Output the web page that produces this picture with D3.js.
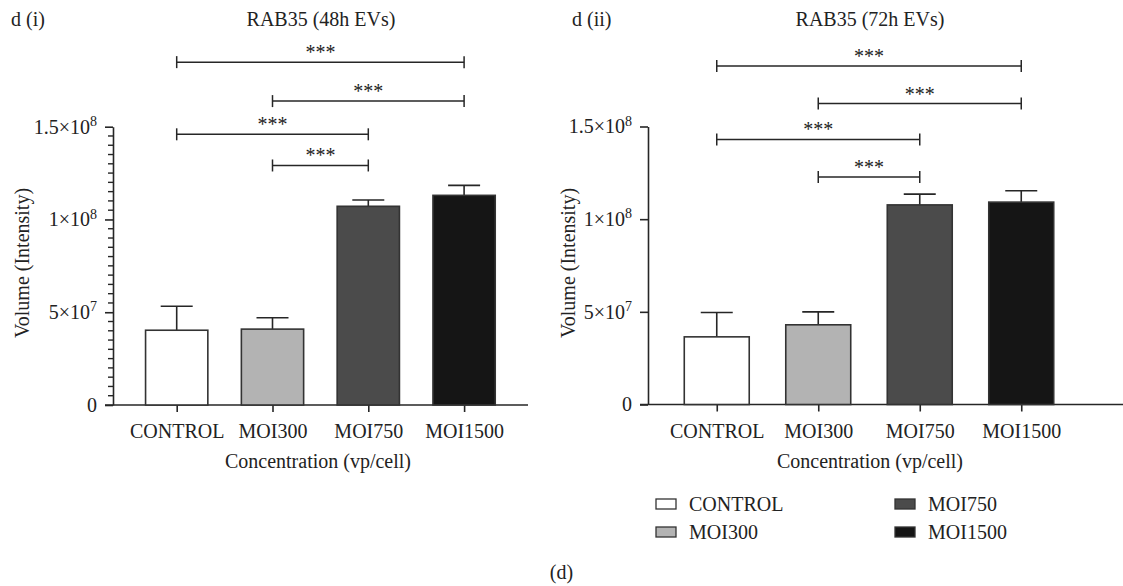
<!DOCTYPE html>
<html>
<head>
<meta charset="utf-8">
<script src="https://cdn.jsdelivr.net/npm/d3@7"></script>
<style>
  html, body { margin: 0; padding: 0; background: #fff; }
  svg { display: block; }
  text { font-family: "Liberation Serif", "Times New Roman", serif; fill: #222; }
</style>
</head>
<body>
<svg id="fig" width="1123" height="586"></svg>
<script>
// Groups (vp/cell) and their bar fills
const categories = ["CONTROL", "MOI300", "MOI750", "MOI1500"];
const fills = ["#ffffff", "#b3b3b3", "#4b4b4b", "#151515"];

// RAB35 volume (intensity), 48h EVs: mean and upper error
const mean48 = [4.03e7, 4.09e7, 1.071e8, 1.130e8];
const err48 = [1.29e7, 0.61e7, 0.34e7, 0.54e7];

// RAB35 volume (intensity), 72h EVs: mean and upper error
const mean72 = [3.65e7, 4.30e7, 1.077e8, 1.092e8];
const err72 = [1.31e7, 0.70e7, 0.58e7, 0.61e7];

// Significance comparisons: [group A, group B, bracket height]
const sig48 = [["CONTROL", "MOI1500", 1.848e8], ["MOI300", "MOI1500", 1.638e8],
               ["CONTROL", "MOI750", 1.459e8], ["MOI300", "MOI750", 1.291e8]];
const sig72 = [["CONTROL", "MOI1500", 1.827e8], ["MOI300", "MOI1500", 1.624e8],
               ["CONTROL", "MOI750", 1.430e8], ["MOI300", "MOI750", 1.228e8]];
const sigLabel = "***";

// Y axis ticks, written as mantissa × 10^exponent
const yTicks = [0, 5e7, 1e8, 1.5e8];
const yTickMantissa = ["0", "5", "1", "1.5"];
const yTickExponent = ["", "7", "8", "8"];

const svg = d3.select("#fig");
const ink = "#262626";

function panel(cfg) {
  const g = svg.append("g");
  const x = d3.scalePoint().domain(categories).range(cfg.xRange).padding(0.5);
  const y = d3.scaleLinear().domain([0, 1.5e8]).range(cfg.yRange);
  const barW = x.step() * cfg.barFrac;
  const capW = 32;

  // panel letter and title
  g.append("text").attr("x", cfg.letterX).attr("y", 26).attr("font-size", 20).text(cfg.letter);
  g.append("text").attr("x", cfg.titleX).attr("y", 26).attr("font-size", 20)
    .attr("text-anchor", "middle").text(cfg.title);

  // minor ticks
  if (cfg.minor) {
    const minorVals = d3.range(0, 1.5e8 + 1, 5e6).filter(v => v % 5e7 !== 0);
    g.selectAll("line.minor").data(minorVals).join("line")
      .attr("class", "minor")
      .attr("x1", cfg.axisX - 5).attr("x2", cfg.axisX)
      .attr("y1", d => y(d)).attr("y2", d => y(d))
      .attr("stroke", ink).attr("stroke-width", 1.4);
  }

  // y axis
  const yAxis = d3.axisLeft(y).tickValues(yTicks).tickSize(8).tickSizeOuter(0).tickPadding(8)
    .tickFormat(() => "");
  const ya = g.append("g").attr("transform", `translate(${cfg.axisX},0)`).call(yAxis);
  ya.select(".domain").attr("stroke", ink).attr("stroke-width", 1.6);
  ya.selectAll(".tick line").attr("stroke", ink).attr("stroke-width", 1.6);
  ya.selectAll(".tick text").each(function (d, i) {
    const t = d3.select(this).attr("font-size", 20).attr("font-family", null).attr("fill", "#222");
    const k = yTicks.indexOf(d);
    if (yTickExponent[k] === "") {
      t.append("tspan").text(yTickMantissa[k]);
    } else {
      t.append("tspan").text(yTickMantissa[k] + "×10");
      t.append("tspan").attr("font-size", 14).attr("dy", "-0.55em").text(yTickExponent[k]);
    }
  });

  // x axis: baseline line and category ticks
  g.append("line").attr("x1", cfg.xLine[0]).attr("x2", cfg.xLine[1])
    .attr("y1", y(0)).attr("y2", y(0)).attr("stroke", ink).attr("stroke-width", 1.6);
  const xAxis = d3.axisBottom(x).tickSize(7).tickSizeOuter(0).tickPadding(12);
  const xa = g.append("g").attr("transform", `translate(0,${y(0)})`).call(xAxis);
  xa.select(".domain").remove();
  xa.selectAll(".tick line").attr("stroke", ink).attr("stroke-width", 1.6);
  xa.selectAll(".tick text").attr("font-size", 20).attr("font-family", null).attr("fill", "#222")
    .attr("dy", "0.71em");

  // error whiskers (upper only)
  const rows = categories.map((c, i) => ({ c, m: cfg.mean[i], e: cfg.err[i], f: fills[i] }));
  g.selectAll("line.whisker").data(rows).join("line")
    .attr("class", "whisker")
    .attr("x1", d => x(d.c)).attr("x2", d => x(d.c))
    .attr("y1", d => y(d.m)).attr("y2", d => y(d.m + d.e))
    .attr("stroke", ink).attr("stroke-width", 1.6);
  g.selectAll("line.cap").data(rows).join("line")
    .attr("class", "cap")
    .attr("x1", d => x(d.c) - capW / 2).attr("x2", d => x(d.c) + capW / 2)
    .attr("y1", d => y(d.m + d.e)).attr("y2", d => y(d.m + d.e))
    .attr("stroke", ink).attr("stroke-width", 1.6);

  // bars
  g.selectAll("rect.bar").data(rows).join("rect")
    .attr("class", "bar")
    .attr("x", d => x(d.c) - barW / 2).attr("width", barW)
    .attr("y", d => y(d.m)).attr("height", d => y(0) - y(d.m))
    .attr("fill", d => d.f).attr("stroke", "#333").attr("stroke-width", 1.6);

  // significance brackets
  cfg.sig.forEach(([a, b, h]) => {
    const x1 = x(a), x2 = x(b), yy = y(h);
    g.append("line").attr("x1", x1).attr("x2", x2).attr("y1", yy).attr("y2", yy)
      .attr("stroke", ink).attr("stroke-width", 1.5);
    [x1, x2].forEach(xx => g.append("line").attr("x1", xx).attr("x2", xx)
      .attr("y1", yy - 6).attr("y2", yy + 6).attr("stroke", ink).attr("stroke-width", 1.5));
    g.append("text").attr("x", (x1 + x2) / 2).attr("y", yy - 3).attr("font-size", 20)
      .attr("text-anchor", "middle").attr("fill", "#555").text(sigLabel);
  });

  // axis titles
  g.append("text").attr("transform", `translate(${cfg.yTitleX},${cfg.yTitleY}) rotate(-90)`)
    .attr("text-anchor", "middle").attr("font-size", 20).text("Volume (Intensity)");
  g.append("text").attr("x", cfg.xTitleX).attr("y", 468).attr("text-anchor", "middle")
    .attr("font-size", 20).text("Concentration (vp/cell)");
}

panel({
  letter: "d (i)", letterX: 11, title: "RAB35 (48h EVs)", titleX: 321,
  xRange: [128.8, 512], yRange: [405, 126.7], axisX: 113, xLine: [105, 528],
  barFrac: 0.65, minor: true, mean: mean48, err: err48, sig: sig48,
  yTitleX: 29, yTitleY: 263, xTitleX: 318
});

panel({
  letter: "d (ii)", letterX: 572, title: "RAB35 (72h EVs)", titleX: 870,
  xRange: [666, 1072], yRange: [404.5, 126.5], axisX: 648, xLine: [640, 1123],
  barFrac: 0.64, minor: false, mean: mean72, err: err72, sig: sig72,
  yTitleX: 575, yTitleY: 263, xTitleX: 870
});

// legend
const legend = svg.append("g");
const legendPos = [[656, 504], [656, 532], [895, 504], [895, 532]];
categories.forEach((c, i) => {
  const [lx, ly] = legendPos[i];
  legend.append("rect").attr("x", lx).attr("y", ly - 5).attr("width", 20).attr("height", 10)
    .attr("fill", fills[i]).attr("stroke", "#333").attr("stroke-width", 1.3);
  legend.append("text").attr("x", lx + 33).attr("y", ly + 7).attr("font-size", 20).text(c);
});

svg.append("text").attr("x", 561.5).attr("y", 579).attr("text-anchor", "middle")
  .attr("font-size", 20).text("(d)");
</script>
</body>
</html>
